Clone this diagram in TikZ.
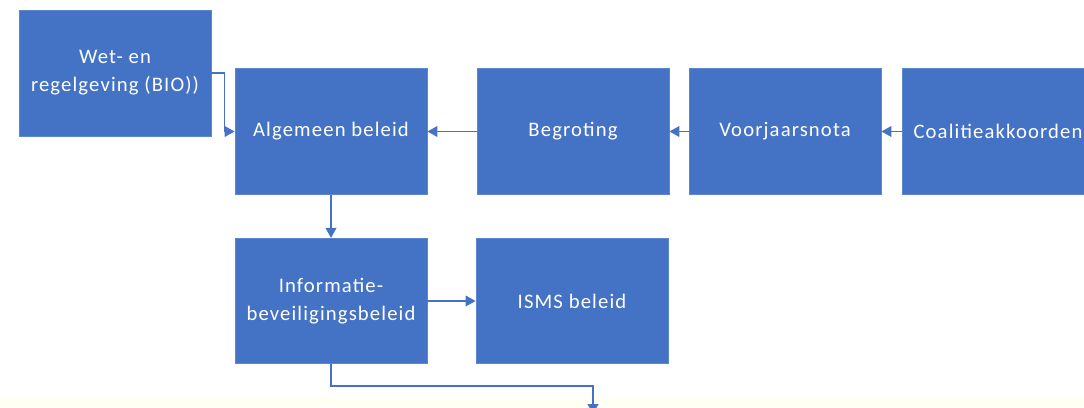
\documentclass[tikz,border=0pt]{standalone}
\usepackage{fontspec}
\setmainfont{Carlito}
\newfontfamily\boxfont[LetterSpace=5.5]{Carlito}
\usetikzlibrary{arrows.meta,positioning}
\definecolor{boxblue}{HTML}{4472C4}
\definecolor{edgeblue}{HTML}{5B85CC}
\definecolor{paleband}{HTML}{FFFFF2}
\tikzset{
  stepbox/.style={rectangle, fill=boxblue, draw=edgeblue, line width=0.6pt,
    minimum width=144pt, minimum height=94pt, inner sep=2pt,
    text=white, align=center, font=\boxfont\fontsize{15.5}{21}\selectfont},
  flow/.style={draw=boxblue, line width=1.1pt,
    -{Triangle[length=7.5pt,width=8pt]}},
}
\begin{document}
\begin{tikzpicture}[x=0.75pt,y=-0.75pt]
  % canvas
  \useasboundingbox (0,0) rectangle (1084,407);
  \fill[white] (0,0) rectangle (1084,407);
  \fill[paleband] (0,397) rectangle (1084,407);

  % top row
  \node[stepbox, minimum height=94.5pt] (wet)  at (115,73)    {Wet- en\\regelgeving (BIO))};
  \node[stepbox] (alg)  at (331,131.5) {Algemeen beleid};
  \node[stepbox] (beg)  at (573,131.5) {Begroting};
  \node[stepbox] (voor) at (785,131.5) {Voorjaarsnota};
  \node[stepbox] (coal) at (998,131.5) {Coalitieakkoorden};

  % second row
  \node[stepbox] (info) at (331,301) {Informatie-\\beveiligingsbeleid};
  \node[stepbox] (isms) at (572,301) {ISMS beleid};

  % loose end of the outgoing flow
  \coordinate (out) at (593,414);

  % connectors
  \draw[flow] (wet.east) -- ++(13,0) |- (alg.west);
  \draw[flow] (beg.west) -- (alg.east);
  \draw[flow] (voor.west) -- (beg.east);
  \draw[flow] (coal.west) -- (voor.east);
  \draw[flow] (alg.south) -- (info.north);
  \draw[flow] (info.east) -- (isms.west);
  \draw[flow] (info.south) -- (331,386) -| (out);
\end{tikzpicture}
\end{document}
